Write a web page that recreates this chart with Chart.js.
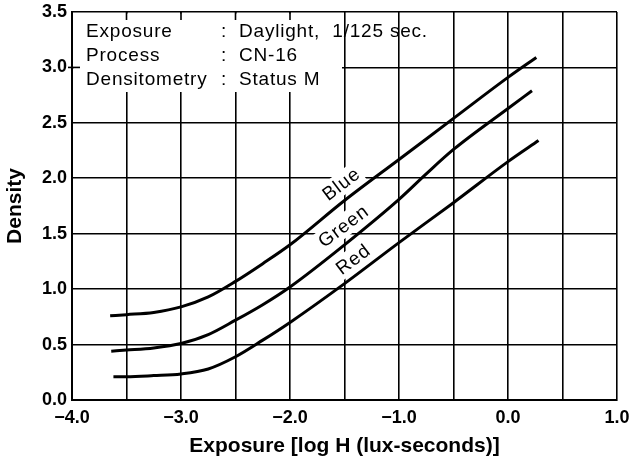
<!DOCTYPE html>
<html>
<head>
<meta charset="utf-8">
<script src="https://cdn.jsdelivr.net/npm/chart.js@4.4.1/dist/chart.umd.min.js"></script>
<style>
html,body{margin:0;padding:0;background:#fff;}
#wrap{width:630px;height:460px;position:relative;}
</style>
</head>
<body>
<div id="wrap"><canvas id="c" width="630" height="460"></canvas></div>
<script>
// Data
const blueX  = [-3.65, -3.5, -3.25, -3.0, -2.75, -2.5, -2.25, -2.0, -1.5, -1.0, -0.5, 0.0, 0.26];
const blueY  = [0.76, 0.77, 0.79, 0.84, 0.93, 1.07, 1.23, 1.40, 1.80, 2.17, 2.54, 2.91, 3.09];
const greenX = [-3.64, -3.5, -3.25, -3.0, -2.75, -2.5, -2.25, -2.0, -1.5, -1.0, -0.75, -0.5, 0.0, 0.22];
const greenY = [0.44, 0.45, 0.47, 0.51, 0.59, 0.72, 0.86, 1.02, 1.40, 1.81, 2.04, 2.26, 2.63, 2.79];
const redX   = [-3.62, -3.5, -3.25, -3.0, -2.75, -2.5, -2.25, -2.0, -1.5, -1.0, -0.5, 0.0, 0.28];
const redY   = [0.21, 0.21, 0.22, 0.235, 0.28, 0.39, 0.54, 0.70, 1.05, 1.42, 1.78, 2.15, 2.34];
const seriesNames = ['Blue', 'Green', 'Red'];
const infoRows = [
  ['Exposure', 'Daylight,  1/125 sec.'],
  ['Process', 'CN-16'],
  ['Densitometry', 'Status M']
];
const xTitle = 'Exposure [log H (lux-seconds)]';
const yTitle = 'Density';

function pts(xs, ys){ return xs.map((x,i)=>({x:x, y:ys[i]})); }
const FONT = '"Liberation Sans", Arial, Helvetica, sans-serif';

// label anchor positions (data space) for curve names
const labelPos = {Blue:{x:-1.53,y:1.95}, Green:{x:-1.51,y:1.57}, Red:{x:-1.42,y:1.27}};

const overlay = {
  id:'overlay',
  beforeDatasetsDraw(chart){
    const ctx = chart.ctx, xs = chart.scales.x, ys = chart.scales.y;
    const ca = chart.chartArea;
    ctx.save();
    // white box for info text
    const bx2 = 342, by2 = 92;
    ctx.fillStyle = '#fff';
    ctx.fillRect(ca.left+1.5, ca.top+1.5, bx2-(ca.left+1.5), by2-(ca.top+1.5));
    // short ticks
    ctx.strokeStyle = '#000'; ctx.lineWidth = 1.6;
    [-3.5,-3.0,-2.5,-2.0].forEach(v=>{
      const px = xs.getPixelForValue(v);
      ctx.beginPath(); ctx.moveTo(px, ca.top); ctx.lineTo(px, ca.top+8); ctx.stroke();
    });
    const py3 = ys.getPixelForValue(3.0);
    ctx.beginPath(); ctx.moveTo(ca.left-4, py3); ctx.lineTo(ca.left+8, py3); ctx.stroke();
    // info text
    ctx.fillStyle = '#000';
    ctx.font = '19px ' + FONT;
    ctx.letterSpacing = '0.8px';
    ctx.textBaseline = 'alphabetic';
    ctx.textAlign = 'left';
    infoRows.forEach((r,i)=>{
      const y = 37 + i*24;
      ctx.fillText(r[0], 86, y);
      ctx.fillText(':', 221, y);
      ctx.fillText(r[1], 239, y);
    });
    // curve names
    const ang = -37*Math.PI/180;
    seriesNames.forEach(n=>{
      const p = labelPos[n];
      const px = xs.getPixelForValue(p.x), py = ys.getPixelForValue(p.y);
      ctx.save();
      ctx.translate(px, py); ctx.rotate(ang);
      ctx.font = '19px ' + FONT;
      ctx.letterSpacing = '1px';
      const w = ctx.measureText(n).width;
      ctx.fillStyle = '#fff';
      ctx.fillRect(-w/2-2, -11, w+4, 22);
      ctx.fillStyle = '#000';
      ctx.textAlign = 'center'; ctx.textBaseline = 'middle';
      ctx.fillText(n, 0, 1);
      ctx.restore();
    });
    ctx.restore();
  }
};

const mkDs = (xs, ys, name) => ({
  label: name, data: pts(xs, ys), borderColor:'#000', backgroundColor:'#000',
  borderWidth:3, pointRadius:0, fill:false, cubicInterpolationMode:'monotone'
});

new Chart(document.getElementById('c'), {
  type:'line',
  data:{ datasets:[ mkDs(blueX, blueY, 'Blue'), mkDs(greenX, greenY, 'Green'), mkDs(redX, redY, 'Red') ] },
  options:{
    responsive:false, animation:false, devicePixelRatio:1,
    layout:{ padding:{ left:0, top:12, right:13, bottom:0 } },
    plugins:{ legend:{display:false}, tooltip:{enabled:false} },
    scales:{
      x:{
        type:'linear', min:-4, max:1,
        ticks:{ stepSize:0.5, autoSkip:false, maxRotation:0, padding:7, color:'#000',
          font:{ family:FONT, size:18, weight:'bold' },
          callback:(v)=> (Math.abs(v - Math.round(v))<1e-9) ? (v<0 ? '\u2212'+Math.abs(v).toFixed(1) : v.toFixed(1)) : '' },
        grid:{ color:'#000', lineWidth:1.6, drawTicks:false },
        border:{ color:'#000', width:2 },
        title:{ display:true, text:xTitle, color:'#000', font:{family:FONT, size:21, weight:'bold'}, padding:{top:0,bottom:1} },
        afterFit(s){ s.height = 60; s.paddingLeft = 0; s.paddingRight = 0; }
      },
      y:{
        type:'linear', min:0, max:3.5,
        ticks:{ stepSize:0.5, padding:5, color:'#000', font:{ family:FONT, size:18, weight:'bold' },
          callback:(v)=> v.toFixed(1) },
        grid:{ color:'#000', lineWidth:1.6, drawTicks:false },
        border:{ color:'#000', width:2 },
        title:{ display:true, text:yTitle, color:'#000', font:{family:FONT, size:21, weight:'bold'}, padding:{top:3,bottom:0} },
        afterFit(s){ s.width = 72; s.paddingTop = 0; s.paddingBottom = 0; }
      }
    }
  },
  plugins:[overlay]
});
</script>
</body>
</html>
